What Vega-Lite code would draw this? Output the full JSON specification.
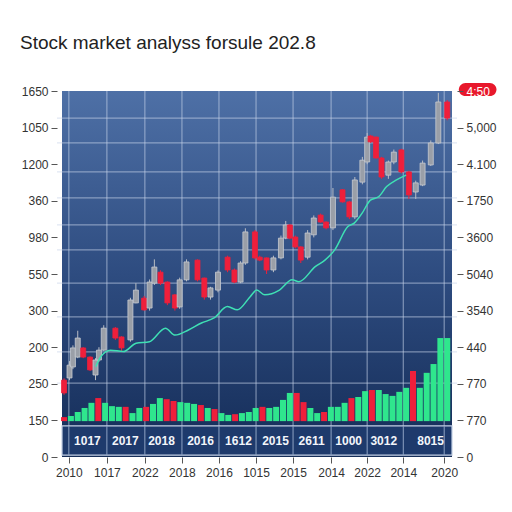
{
  "$schema": "https://vega.github.io/schema/vega-lite/v6.json",
  "width": 400,
  "height": 366,
  "autosize": {"type": "none"},
  "padding": {"left": 57, "top": 91, "right": 55, "bottom": 55},
  "background": "white",
  "title": {"text": "Stock market analyss forsule 202.8", "anchor": "start", "frame": "group", "dx": -37, "offset": 30, "fontSize": 19, "font": "Liberation Sans", "fontWeight": "normal", "color": "#222222"},
  "config": {"view": {"stroke": null}, "font": "Liberation Sans"},
  "datasets": {
    "hgrid": [{"v": 9.26}, {"v": 8.58}, {"v": 7.79}, {"v": 7.08}, {"v": 6.34}, {"v": 5.66}, {"v": 4.75}, {"v": 3.83}, {"v": 2.87}, {"v": 2.02}],
    "ticks": [{"t": 1}, {"t": 6.56}, {"t": 12.11}, {"t": 17.53}, {"t": 22.94}, {"t": 28.36}, {"t": 33.77}, {"t": 39.33}, {"t": 44.6}, {"t": 49.88}, {"t": 55.86}],
    "band": [{"t": 3.71, "lab": "1017"}, {"t": 9.26, "lab": "2017"}, {"t": 14.54, "lab": "2018"}, {"t": 20.24, "lab": "2016"}, {"t": 25.79, "lab": "1612"}, {"t": 31.21, "lab": "2015"}, {"t": 36.48, "lab": "2611"}, {"t": 41.9, "lab": "1000"}, {"t": 47.03, "lab": "3012"}, {"t": 53.87, "lab": "8015"}],
    "volume": [
      {"t": 0.3, "vol": 1.09, "d": "down"}, {"t": 1.3, "vol": 1.12, "d": "up"}, {"t": 2.3, "vol": 1.23, "d": "up"}, {"t": 3.3, "vol": 1.34, "d": "up"},
      {"t": 4.3, "vol": 1.48, "d": "up"}, {"t": 5.3, "vol": 1.61, "d": "down"}, {"t": 6.3, "vol": 1.48, "d": "up"}, {"t": 7.3, "vol": 1.39, "d": "up"},
      {"t": 8.3, "vol": 1.37, "d": "up"}, {"t": 9.3, "vol": 1.37, "d": "down"}, {"t": 10.3, "vol": 1.2, "d": "up"}, {"t": 11.3, "vol": 1.34, "d": "up"},
      {"t": 12.3, "vol": 1.37, "d": "down"}, {"t": 13.3, "vol": 1.45, "d": "up"}, {"t": 14.3, "vol": 1.61, "d": "up"}, {"t": 15.3, "vol": 1.58, "d": "down"},
      {"t": 16.3, "vol": 1.53, "d": "down"}, {"t": 17.3, "vol": 1.5, "d": "up"}, {"t": 18.3, "vol": 1.48, "d": "up"}, {"t": 19.3, "vol": 1.45, "d": "up"},
      {"t": 20.3, "vol": 1.42, "d": "down"}, {"t": 21.3, "vol": 1.34, "d": "up"}, {"t": 22.3, "vol": 1.31, "d": "down"}, {"t": 23.3, "vol": 1.2, "d": "up"},
      {"t": 24.3, "vol": 1.15, "d": "up"}, {"t": 25.3, "vol": 1.17, "d": "down"}, {"t": 26.3, "vol": 1.2, "d": "up"}, {"t": 27.3, "vol": 1.23, "d": "up"},
      {"t": 28.3, "vol": 1.34, "d": "up"}, {"t": 29.3, "vol": 1.37, "d": "down"}, {"t": 30.3, "vol": 1.34, "d": "up"}, {"t": 31.3, "vol": 1.37, "d": "up"},
      {"t": 32.3, "vol": 1.56, "d": "up"}, {"t": 33.3, "vol": 1.75, "d": "up"}, {"t": 34.3, "vol": 1.75, "d": "down"}, {"t": 35.3, "vol": 1.5, "d": "down"},
      {"t": 36.3, "vol": 1.34, "d": "up"}, {"t": 37.3, "vol": 1.2, "d": "up"}, {"t": 38.3, "vol": 1.23, "d": "down"}, {"t": 39.3, "vol": 1.37, "d": "up"},
      {"t": 40.3, "vol": 1.37, "d": "up"}, {"t": 41.3, "vol": 1.48, "d": "up"}, {"t": 42.3, "vol": 1.61, "d": "down"}, {"t": 43.3, "vol": 1.64, "d": "up"},
      {"t": 44.3, "vol": 1.8, "d": "up"}, {"t": 45.3, "vol": 1.83, "d": "down"}, {"t": 46.3, "vol": 1.83, "d": "up"}, {"t": 47.3, "vol": 1.72, "d": "up"},
      {"t": 48.3, "vol": 1.67, "d": "up"}, {"t": 49.3, "vol": 1.78, "d": "up"}, {"t": 50.3, "vol": 1.89, "d": "up"}, {"t": 51.3, "vol": 2.35, "d": "down"},
      {"t": 52.3, "vol": 1.89, "d": "up"}, {"t": 53.3, "vol": 2.3, "d": "up"}, {"t": 54.3, "vol": 2.54, "d": "up"}, {"t": 55.3, "vol": 3.25, "d": "up"},
      {"t": 56.3, "vol": 3.25, "d": "up"}
    ],
    "candles": [
      {"t": 0.3, "o": 2.10, "c": 1.75, "h": 2.15, "l": 1.70},
      {"t": 1.1, "o": 2.16, "c": 2.51, "h": 2.62, "l": 2.10},
      {"t": 1.6, "o": 2.46, "c": 2.98, "h": 3.05, "l": 2.40},
      {"t": 2.3, "o": 2.73, "c": 3.25, "h": 3.45, "l": 2.70},
      {"t": 3.1, "o": 2.98, "c": 2.73, "h": 3.00, "l": 2.70},
      {"t": 4.1, "o": 2.73, "c": 2.38, "h": 2.75, "l": 2.35},
      {"t": 4.9, "o": 2.24, "c": 2.65, "h": 2.70, "l": 2.10},
      {"t": 5.4, "o": 2.65, "c": 2.92, "h": 3.00, "l": 2.60},
      {"t": 6.1, "o": 2.92, "c": 3.52, "h": 3.60, "l": 2.90},
      {"t": 7.8, "o": 3.52, "c": 3.25, "h": 3.55, "l": 3.20},
      {"t": 8.7, "o": 3.28, "c": 2.98, "h": 3.30, "l": 2.90},
      {"t": 10.0, "o": 3.20, "c": 4.29, "h": 4.35, "l": 3.15},
      {"t": 10.8, "o": 4.21, "c": 4.56, "h": 4.75, "l": 4.20},
      {"t": 12.0, "o": 4.34, "c": 4.02, "h": 4.40, "l": 4.00},
      {"t": 12.8, "o": 4.07, "c": 4.78, "h": 4.85, "l": 4.00},
      {"t": 13.5, "o": 4.75, "c": 5.19, "h": 5.40, "l": 4.70},
      {"t": 14.4, "o": 5.05, "c": 4.75, "h": 5.10, "l": 4.70},
      {"t": 15.4, "o": 4.78, "c": 4.21, "h": 4.80, "l": 4.15},
      {"t": 16.5, "o": 4.43, "c": 4.07, "h": 4.45, "l": 4.00},
      {"t": 17.2, "o": 4.10, "c": 4.84, "h": 4.90, "l": 4.05},
      {"t": 18.2, "o": 4.84, "c": 5.33, "h": 5.40, "l": 4.80},
      {"t": 19.8, "o": 5.38, "c": 4.84, "h": 5.40, "l": 4.80},
      {"t": 20.8, "o": 4.89, "c": 4.37, "h": 4.90, "l": 4.30},
      {"t": 21.7, "o": 4.37, "c": 4.62, "h": 4.65, "l": 4.30},
      {"t": 22.8, "o": 4.56, "c": 5.05, "h": 5.10, "l": 4.50},
      {"t": 24.2, "o": 5.46, "c": 5.11, "h": 5.50, "l": 5.05},
      {"t": 25.2, "o": 5.11, "c": 4.78, "h": 5.15, "l": 4.75},
      {"t": 26.1, "o": 4.78, "c": 5.30, "h": 5.35, "l": 4.75},
      {"t": 26.8, "o": 5.30, "c": 6.15, "h": 6.25, "l": 5.25},
      {"t": 28.2, "o": 6.15, "c": 5.44, "h": 6.20, "l": 5.40},
      {"t": 28.9, "o": 5.46, "c": 5.38, "h": 5.50, "l": 5.35},
      {"t": 29.9, "o": 5.44, "c": 5.11, "h": 5.45, "l": 5.00},
      {"t": 30.9, "o": 5.11, "c": 5.44, "h": 5.50, "l": 5.05},
      {"t": 32.0, "o": 5.44, "c": 5.98, "h": 6.05, "l": 5.40},
      {"t": 32.7, "o": 5.98, "c": 6.34, "h": 6.45, "l": 5.95},
      {"t": 33.3, "o": 6.34, "c": 5.98, "h": 6.36, "l": 5.95},
      {"t": 34.1, "o": 6.01, "c": 5.74, "h": 6.05, "l": 5.70},
      {"t": 34.9, "o": 5.74, "c": 5.38, "h": 5.76, "l": 5.30},
      {"t": 35.9, "o": 5.46, "c": 6.12, "h": 6.20, "l": 5.40},
      {"t": 36.8, "o": 6.07, "c": 6.53, "h": 6.60, "l": 6.00},
      {"t": 37.8, "o": 6.61, "c": 6.42, "h": 6.65, "l": 6.40},
      {"t": 38.6, "o": 6.42, "c": 6.26, "h": 6.44, "l": 6.22},
      {"t": 39.6, "o": 6.26, "c": 7.10, "h": 7.35, "l": 6.20},
      {"t": 41.0, "o": 7.30, "c": 6.97, "h": 7.32, "l": 6.95},
      {"t": 42.0, "o": 6.97, "c": 6.56, "h": 7.00, "l": 6.50},
      {"t": 42.8, "o": 6.56, "c": 7.57, "h": 7.65, "l": 6.50},
      {"t": 43.9, "o": 7.51, "c": 8.11, "h": 8.20, "l": 7.45},
      {"t": 44.6, "o": 8.06, "c": 8.74, "h": 8.85, "l": 8.00},
      {"t": 45.1, "o": 8.77, "c": 8.61, "h": 8.80, "l": 8.58},
      {"t": 45.9, "o": 8.74, "c": 8.17, "h": 8.76, "l": 8.15},
      {"t": 46.7, "o": 8.17, "c": 7.65, "h": 8.20, "l": 7.60},
      {"t": 47.7, "o": 7.70, "c": 8.06, "h": 8.10, "l": 7.60},
      {"t": 48.5, "o": 8.06, "c": 8.33, "h": 8.40, "l": 8.00},
      {"t": 49.6, "o": 8.39, "c": 7.79, "h": 8.42, "l": 7.75},
      {"t": 50.7, "o": 7.79, "c": 7.16, "h": 7.82, "l": 7.05},
      {"t": 51.7, "o": 7.24, "c": 7.49, "h": 7.55, "l": 7.05},
      {"t": 52.7, "o": 7.43, "c": 8.03, "h": 8.10, "l": 7.40},
      {"t": 53.9, "o": 7.98, "c": 8.58, "h": 8.65, "l": 7.95},
      {"t": 55.0, "o": 8.58, "c": 9.70, "h": 9.95, "l": 8.55},
      {"t": 56.3, "o": 9.70, "c": 9.26, "h": 9.75, "l": 9.20}
    ],
    "ma": [
      {"t": 4.94, "v": 2.47}, {"t": 5.66, "v": 2.74}, {"t": 7.08, "v": 2.92}, {"t": 8.98, "v": 2.88}, {"t": 10.83, "v": 3.11},
      {"t": 12.78, "v": 3.15}, {"t": 15.11, "v": 3.52}, {"t": 16.53, "v": 3.33}, {"t": 18.48, "v": 3.47}, {"t": 20.38, "v": 3.66},
      {"t": 22.23, "v": 3.8}, {"t": 24.18, "v": 4.11}, {"t": 25.61, "v": 4.02}, {"t": 27.5, "v": 4.38}, {"t": 28.46, "v": 4.56},
      {"t": 29.64, "v": 4.43}, {"t": 31.78, "v": 4.56}, {"t": 33.63, "v": 4.84}, {"t": 34.63, "v": 4.79}, {"t": 37.01, "v": 5.2},
      {"t": 38.43, "v": 5.38}, {"t": 39.86, "v": 5.66}, {"t": 41.75, "v": 6.29}, {"t": 42.71, "v": 6.39}, {"t": 43.89, "v": 6.67},
      {"t": 45.07, "v": 7.02}, {"t": 46.27, "v": 7.11}, {"t": 47.45, "v": 7.39}, {"t": 48.88, "v": 7.57}, {"t": 50.3, "v": 7.7}
    ]
  },
  "resolve": {"axis": {"x": "independent", "y": "independent"}},
  "layer": [
    {
      "data": {"values": [{}]},
      "mark": {"type": "rect", "fill": {"gradient": "linear", "x1": 0, "y1": 0, "x2": 0, "y2": 1, "stops": [{"offset": 0, "color": "#4e70a6"}, {"offset": 0.5, "color": "#2e4c80"}, {"offset": 1, "color": "#142c57"}]}},
      "encoding": {
        "x": {"datum": 0, "type": "quantitative", "scale": {"domain": [0, 57], "nice": false, "zero": false}, "axis": null},
        "x2": {"datum": 57},
        "y": {"datum": 0, "type": "quantitative", "scale": {"domain": [0, 10], "nice": false, "zero": false}, "axis": null},
        "y2": {"datum": 10}
      }
    },
    {
      "data": {"name": "hgrid"},
      "mark": {"type": "rule", "color": "#c9d6ea", "strokeWidth": 1.2, "opacity": 0.55},
      "encoding": {
        "y": {"field": "v", "type": "quantitative", "scale": {"domain": [0, 10], "nice": false, "zero": false},
          "axis": {"orient": "left", "values": [0, 1, 2, 3, 4, 5, 6, 7, 8, 9, 10], "title": null, "domain": false, "grid": false, "tickColor": "#555555", "tickSize": 6, "labelPadding": 3, "labelFontSize": 12, "labelColor": "#333333", "labelFont": "Liberation Sans",
            "labelExpr": "['0','150','250','200','300','550','980','360','1200','1050','1650'][datum.value]"}}
      }
    },
    {
      "data": {"name": "ticks"},
      "mark": {"type": "rule", "color": "#c9d6ea", "strokeWidth": 1.2, "opacity": 0.55},
      "encoding": {
        "x": {"field": "t", "type": "quantitative", "scale": {"domain": [0, 57], "nice": false, "zero": false},
          "axis": {"orient": "bottom", "values": [1, 6.56, 12.11, 17.53, 22.94, 28.36, 33.77, 39.33, 44.6, 49.88, 55.86], "title": null, "domain": false, "grid": false, "tickColor": "#555555", "tickSize": 6, "labelPadding": 4, "labelFontSize": 12, "labelColor": "#333333", "labelFont": "Liberation Sans",
            "labelExpr": "['2010','1017','2022','2018','2016','1015','2015','2014','2022','2014','2020'][indexof([1,6.56,12.11,17.53,22.94,28.36,33.77,39.33,44.6,49.88,55.86], datum.value)]"}},
        "y": {"datum": 0.85, "type": "quantitative", "axis": null},
        "y2": {"datum": 10}
      }
    },
    {
      "data": {"name": "volume"},
      "mark": {"type": "bar", "size": 6},
      "encoding": {
        "x": {"field": "t", "type": "quantitative", "axis": null},
        "y": {"field": "vol", "type": "quantitative", "axis": null},
        "y2": {"datum": 0.98},
        "color": {"field": "d", "type": "nominal", "scale": {"domain": ["up", "down"], "range": ["#2fe68d", "#ef1f3b"]}, "legend": null}
      }
    },
    {
      "data": {"values": [{}]},
      "mark": {"type": "rect", "fill": "#1e3a6c", "stroke": "#c3d0e4", "strokeWidth": 1.2},
      "encoding": {
        "x": {"datum": 0, "type": "quantitative", "axis": null},
        "x2": {"datum": 57},
        "y": {"datum": 0.05, "type": "quantitative", "axis": null},
        "y2": {"datum": 0.85}
      }
    },
    {
      "data": {"name": "ticks"},
      "mark": {"type": "rule", "color": "#8ea3c4", "strokeWidth": 1},
      "encoding": {
        "x": {"field": "t", "type": "quantitative", "axis": null},
        "y": {"datum": 0.05, "type": "quantitative", "axis": null},
        "y2": {"datum": 0.85}
      }
    },
    {
      "data": {"name": "band"},
      "mark": {"type": "text", "color": "#f2f5fa", "fontSize": 12, "fontWeight": "bold", "font": "Liberation Sans", "align": "center", "baseline": "middle"},
      "encoding": {
        "x": {"field": "t", "type": "quantitative", "axis": null},
        "y": {"datum": 0.45, "type": "quantitative", "axis": null},
        "text": {"field": "lab"}
      }
    },
    {
      "data": {"name": "candles"},
      "mark": {"type": "rule", "strokeWidth": 1},
      "encoding": {
        "x": {"field": "t", "type": "quantitative", "axis": null},
        "y": {"field": "l", "type": "quantitative",
          "axis": {"orient": "right", "values": [0, 1, 2, 3, 4, 5, 6, 7, 8, 9, 10], "title": null, "domain": false, "grid": false, "tickColor": "#555555", "tickSize": 6, "labelPadding": 3, "labelFontSize": 12, "labelFont": "Liberation Sans", "zindex": 2,
            "labelColor": {"condition": {"test": "datum.value === 10", "value": "#ffffff"}, "value": "#333333"},
            "labelExpr": "['0','770','770','440','3540','5040','3600','1750','4.100','5,000','4:50'][datum.value]"}},
        "y2": {"field": "h"},
        "color": {"condition": {"test": "datum.c < datum.o", "value": "#ef1f3b"}, "value": "#b9bdc4"}
      }
    },
    {
      "data": {"name": "candles"},
      "mark": {"type": "bar", "size": 5, "strokeWidth": 0.8},
      "encoding": {
        "x": {"field": "t", "type": "quantitative", "axis": null},
        "y": {"field": "o", "type": "quantitative", "axis": null},
        "y2": {"field": "c"},
        "color": {"condition": {"test": "datum.c < datum.o", "value": "#ef1f3b"}, "value": "#9a9fa8"},
        "stroke": {"condition": {"test": "datum.c < datum.o", "value": "#ef1f3b"}, "value": "#c8ccd2"}
      }
    },
    {
      "data": {"name": "ma"},
      "mark": {"type": "line", "color": "#3fe0b4", "strokeWidth": 1.5, "interpolate": "monotone"},
      "encoding": {
        "x": {"field": "t", "type": "quantitative", "axis": null},
        "y": {"field": "v", "type": "quantitative", "axis": null}
      }
    },
    {
      "data": {"values": [{}]},
      "mark": {"type": "rect", "fill": "#e8182c", "cornerRadius": 7, "clip": false},
      "encoding": {
        "x": {"datum": 58.0, "type": "quantitative", "axis": null},
        "x2": {"datum": 63.5},
        "y": {"datum": 9.86, "type": "quantitative", "axis": null},
        "y2": {"datum": 10.22}
      }
    }
  ]
}
